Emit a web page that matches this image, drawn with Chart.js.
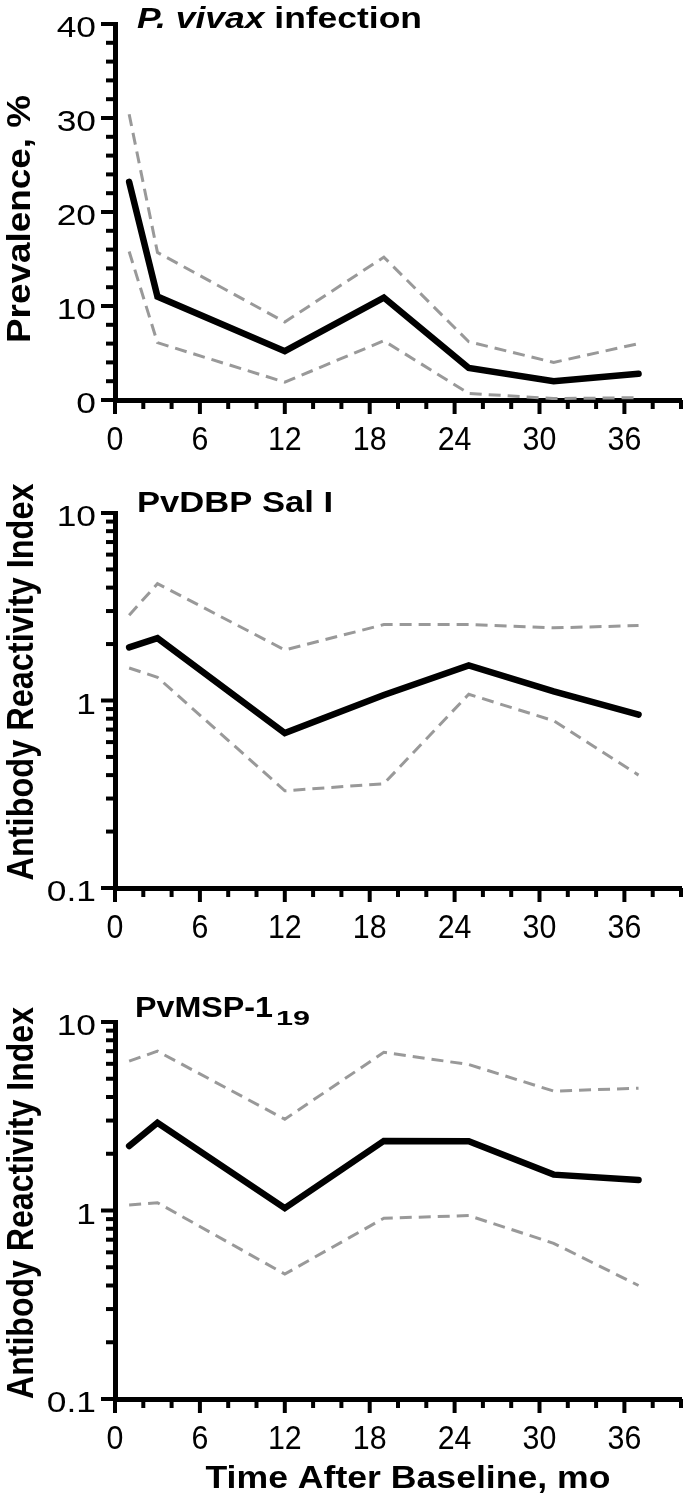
<!DOCTYPE html>
<html><head><meta charset="utf-8">
<script src="https://cdn.jsdelivr.net/npm/chart.js@4.4.0/dist/chart.umd.min.js"></script>
<style>
html,body{margin:0;padding:0;background:#fff;}
body{width:686px;height:1503px;position:relative;overflow:hidden;}
canvas{position:absolute;left:0;}
</style></head><body>
<canvas id="c1" width="686" height="460" style="top:0px"></canvas>
<canvas id="c2" width="686" height="500" style="top:460px"></canvas>
<canvas id="c3" width="686" height="543" style="top:960px"></canvas>
<script>
// ---- data ----
const months = [1, 3, 12, 19, 25, 31, 37];
const xTickValues = [0, 6, 12, 18, 24, 30, 36];
const prevTickValues = [0, 10, 20, 30, 40];
const logTickValues = [0.1, 1, 10];

const prevMean  = [23.2, 11.0, 5.2, 10.9, 3.4, 2.0, 2.8];
const prevUpper = [30.4, 15.7, 8.3, 15.2, 6.2, 4.0, 6.0];
const prevLower = [15.8, 6.1, 1.9, 6.3, 0.7, 0.15, 0.25];

const dbpMean  = [1.92, 2.15, 0.67, 1.07, 1.54, 1.12, 0.84];
const dbpUpper = [2.85, 4.2, 1.86, 2.54, 2.54, 2.44, 2.51];
const dbpLower = [1.49, 1.33, 0.33, 0.36, 1.08, 0.78, 0.40];

const mspMean  = [2.2, 2.92, 1.03, 2.34, 2.33, 1.55, 1.45];
const mspUpper = [6.2, 7.0, 3.05, 6.9, 5.95, 4.3, 4.45];
const mspLower = [1.07, 1.1, 0.46, 0.91, 0.94, 0.67, 0.40];

const panelTitles = ['infection', 'PvDBP Sal I', 'PvMSP-1'];
const speciesName = 'P. vivax';
const subscript = '19';
const yTitles = ['Prevalence, %', 'Antibody Reactivity Index', 'Antibody Reactivity Index'];
const xTitle = 'Time After Baseline, mo';

// ---- style ----
const SANS = '"Liberation Sans", Arial, Helvetica, sans-serif';
const GRAY = '#999999';
Chart.defaults.color = '#000';
Chart.defaults.font.family = SANS;

function pts(arr) { return months.map((m, i) => ({x: m, y: arr[i]})); }

// draw text fitted to a target length along its reading direction
function fitText(ctx, text, x, y, font, targetW, align, rot) {
  ctx.save();
  ctx.font = font;
  const w = ctx.measureText(text).width;
  const sx = targetW ? targetW / w : 1;
  ctx.translate(x, y);
  if (rot) ctx.rotate(rot);
  ctx.scale(sx, 1);
  ctx.textAlign = align;
  ctx.textBaseline = 'alphabetic';
  ctx.fillStyle = '#000';
  ctx.fillText(text, 0, 0);
  ctx.restore();
}
function scaledText(ctx, text, x, y, font, sx, align) {
  ctx.save();
  ctx.font = font;
  ctx.translate(x, y);
  ctx.scale(sx, 1);
  ctx.textAlign = align;
  ctx.textBaseline = 'alphabetic';
  ctx.fillStyle = '#000';
  ctx.fillText(text, 0, 0);
  ctx.restore();
}

function makePanel(id, cfg) {
  const canvas = document.getElementById(id);
  const H = canvas.height;
  const decor = {
    id: 'decor' + id,
    afterDraw(chart) {
      const ctx = chart.ctx, xs = chart.scales.x, ys = chart.scales.y;
      const area = chart.chartArea;
      ctx.save();
      ctx.strokeStyle = '#000';
      ctx.lineWidth = 4;
      ctx.lineCap = 'butt';
      // x tick marks every 2 months, major every 6
      for (let v = 0; v <= 40; v += 2) {
        const px = xs.getPixelForValue(v);
        const len = (v % 6 === 0) ? 14 : 9;
        ctx.beginPath(); ctx.moveTo(px, area.bottom); ctx.lineTo(px, area.bottom + len); ctx.stroke();
      }
      // y tick marks
      cfg.yMinor.forEach(v => {
        const py = ys.getPixelForValue(v);
        const len = cfg.yMajor.includes(v) ? 14 : 9;
        ctx.beginPath(); ctx.moveTo(area.left, py); ctx.lineTo(area.left - len, py); ctx.stroke();
      });
      ctx.restore();
      // tick labels from the scales' own ticks
      xs.ticks.forEach(t => {
        scaledText(ctx, String(t.value), xs.getPixelForValue(t.value), area.bottom + 50,
                   '33px ' + SANS, 0.92, 'center');
      });
      ys.ticks.forEach(t => {
        scaledText(ctx, String(t.value), area.left - 19, ys.getPixelForValue(t.value) + 13,
                   '29px ' + SANS, 1.22, 'right');
      });
      // panel title
      cfg.drawTitle(ctx);
      // y title
      fitText(ctx, cfg.yTitle, cfg.yTitleX, cfg.yTitleY, 'bold ' + cfg.yTitleSize + 'px ' + SANS,
              cfg.yTitleLen, 'center', -Math.PI / 2);
      if (cfg.xTitle) {
        fitText(ctx, cfg.xTitle, 408, cfg.xTitleY, 'bold 31px ' + SANS, 405, 'center', 0);
      }
    }
  };
  return new Chart(canvas, {
    type: 'line',
    data: {
      datasets: [
        {data: pts(cfg.upper), borderColor: GRAY, borderWidth: 3, borderDash: [12, 7], pointRadius: 0, tension: 0, fill: false},
        {data: pts(cfg.lower), borderColor: GRAY, borderWidth: 3, borderDash: [12, 7], pointRadius: 0, tension: 0, fill: false},
        {data: pts(cfg.mean), borderColor: '#000', borderWidth: 6.5, borderCapStyle: 'round', borderJoinStyle: 'miter', pointRadius: 0, tension: 0, fill: false}
      ]
    },
    options: {
      responsive: false,
      animation: false,
      devicePixelRatio: 1,
      events: [],
      layout: {padding: {left: 0, right: 5, top: cfg.top, bottom: 0}},
      plugins: {legend: {display: false}, tooltip: {enabled: false}},
      scales: {
        x: {
          type: 'linear', min: 0, max: 40,
          grid: {display: false, drawTicks: false},
          border: {display: true, color: '#000', width: 5},
          afterBuildTicks: s => { s.ticks = xTickValues.map(v => ({value: v})); },
          afterFit: s => { s.height = H - cfg.bottom; },
          ticks: {display: false, autoSkip: false, maxRotation: 0, minRotation: 0}
        },
        y: {
          type: cfg.yType, min: cfg.yMin, max: cfg.yMax,
          grid: {display: false, drawTicks: false},
          border: {display: true, color: '#000', width: 5},
          afterBuildTicks: s => { s.ticks = cfg.yTicks.map(v => ({value: v})); },
          afterFit: s => { s.width = 115; },
          ticks: {display: false, autoSkip: false}
        }
      }
    },
    plugins: [decor]
  });
}

const linMinor = []; for (let v = 0; v <= 40; v += 2) linMinor.push(v);
const logMinor = [];
[0.1, 1].forEach(d => { for (let k = 1; k <= 9; k++) logMinor.push(+(d * k).toFixed(2)); });
logMinor.push(10);

makePanel('c1', {
  top: 24, bottom: 400, yType: 'linear', yMin: 0, yMax: 40, yTicks: prevTickValues,
  yMinor: linMinor, yMajor: prevTickValues,
  mean: prevMean, upper: prevUpper, lower: prevLower,
  yTitle: yTitles[0], yTitleX: 30, yTitleY: 219, yTitleSize: 34, yTitleLen: 248,
  drawTitle(ctx) {
    const fI = 'italic bold 30px ' + SANS, fB = 'bold 30px ' + SANS;
    ctx.save();
    ctx.font = fI; const w1 = ctx.measureText(speciesName + ' ').width;
    ctx.font = fB; const w2 = ctx.measureText(panelTitles[0]).width;
    const sx = 285 / (w1 + w2);
    ctx.translate(137, 28); ctx.scale(sx, 1);
    ctx.fillStyle = '#000'; ctx.textAlign = 'left'; ctx.textBaseline = 'alphabetic';
    ctx.font = fI; ctx.fillText(speciesName, 0, 0);
    ctx.font = fB; ctx.fillText(panelTitles[0], w1, 0);
    ctx.restore();
  }
});

makePanel('c2', {
  top: 53, bottom: 428, yType: 'logarithmic', yMin: 0.1, yMax: 10, yTicks: logTickValues,
  yMinor: logMinor, yMajor: logTickValues,
  mean: dbpMean, upper: dbpUpper, lower: dbpLower,
  yTitle: yTitles[1], yTitleX: 33, yTitleY: 222, yTitleSize: 37, yTitleLen: 397,
  drawTitle(ctx) {
    fitText(ctx, panelTitles[1], 137, 52, 'bold 29px ' + SANS, 196, 'left', 0);
  }
});

makePanel('c3', {
  top: 62, bottom: 439, yType: 'logarithmic', yMin: 0.1, yMax: 10, yTicks: logTickValues,
  yMinor: logMinor, yMajor: logTickValues,
  mean: mspMean, upper: mspUpper, lower: mspLower,
  yTitle: yTitles[2], yTitleX: 33, yTitleY: 243, yTitleSize: 37, yTitleLen: 392,
  xTitle: xTitle, xTitleY: 528,
  drawTitle(ctx) {
    fitText(ctx, panelTitles[2], 135, 57, 'bold 29px ' + SANS, 138, 'left', 0);
    fitText(ctx, subscript, 276, 65, 'bold 21px ' + SANS, 34, 'left', 0);
  }
});
</script>
</body></html>
